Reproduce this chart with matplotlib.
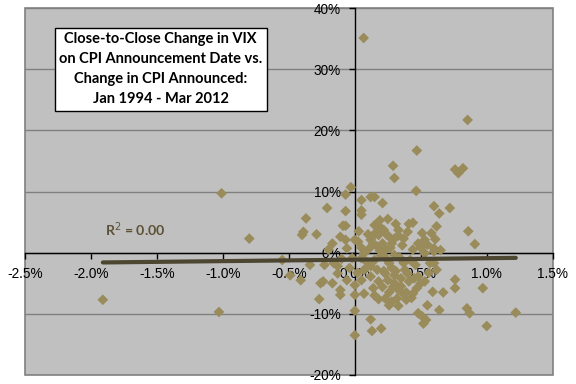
import matplotlib
matplotlib.use("Agg")
import matplotlib.pyplot as plt
from matplotlib.ticker import FuncFormatter, MultipleLocator

# CPI change announced (%)
cpi_change = [
    0.067, 0.855, 0.47, 0.29, 0.30, 0.76, 0.785, 0.82, 0.465, -0.03,
    -0.07, -1.01, 0.12, 0.15, 0.05, 0.21, -0.21, -0.07, 0.05, 0.05,
    0.60, 0.72, 0.64, -0.37, 0.19, 0.25, 0.15, 0.31, 0.41, 0.44,
    0.62, -0.09, -0.07, -0.80, -0.39, -0.40, -0.29, 0.22, 0.33, 0.40,
    0.51, 0.58, 0.86, 0.91, 0.18, 0.26, 0.30, 0.37, 0.53, 0.61,
    -0.11, -0.07, 0.00, 0.025, 0.12, 0.14, 0.21, 0.48, 0.55, -0.17,
    -0.06, 0.11, 0.23, 0.60, 0.65, 0.07, 0.22, 0.30, 0.53, 0.60,
    -0.55, -0.34, -0.23, -0.02, 0.05, 0.15, 0.26, 0.37, 0.46, 0.57,
    0.60, -0.49, -0.41, -0.24, -0.26, -0.17, -0.13, -0.06, 0.00, 0.05,
    0.12, 0.18, 0.23, 0.25, 0.30, 0.35, 0.40, 0.41, 0.48, 0.50,
    0.53, 0.76, 0.76, 0.97, 0.67, 0.59, 0.47, 0.44, 0.39, 0.33,
    0.29, 0.21, 0.14, 0.07, 0.00, -0.11, -0.11, -0.27, 0.18, 0.23,
    0.28, 0.32, 0.26, 0.33, 0.39, 0.43, 0.55, 0.64, 0.85, 0.87,
    0.48, 0.51, 0.54, 0.52, 1.22, 1.00, 0.00, 0.12, 0.13, 0.20,
    0.00, -1.03, -1.91, -0.16,
    0.10, 0.13, 0.17, 0.19, 0.20, 0.24, 0.27, 0.28, 0.31, 0.34,
    0.36, 0.38, 0.17, 0.12, 0.09, 0.22, 0.26, 0.30, 0.35, 0.20,
    0.24, 0.28, 0.16, 0.33, 0.42, 0.44, 0.50, 0.05, -0.04, -0.10,
    0.02, 0.07, 0.37, 0.15, 0.45, 0.56, 0.62, -0.20, -0.13, 0.03,
]

# Close-to-close VIX change on announcement date (%)
vix_change = [
    35.1, 21.7, 16.7, 14.2, 12.2, 13.6, 13.0, 13.8, 10.1, 10.7,
    9.5, 9.7, 9.1, 9.1, 8.6, 8.1, 7.3, 6.8, 6.9, 6.2,
    7.6, 7.3, 6.4, 5.6, 5.3, 5.5, 4.5, 4.7, 4.7, 4.9,
    4.3, 4.4, 4.4, 2.3, 3.4, 2.9, 3.0, 3.7, 3.7, 3.4,
    3.2, 3.2, 3.5, 1.4, 2.9, 2.6, 2.3, 2.3, 2.1, 2.2,
    2.6, 2.1, 2.1, 1.8, 2.1, 1.5, 1.5, 1.5, 1.3, 1.5,
    0.7, 0.7, 0.7, 0.7, 0.4, -0.1, 0.2, -0.4, -0.1, 0.2,
    -1.2, -2.0, -2.0, -0.9, -0.9, -1.2, -1.7, -1.7, -2.0, -1.7,
    -1.7, -3.7, -4.5, -4.7, -5.0, -5.0, -3.4, -4.5, -5.3, -4.5,
    -3.9, -4.7, -3.4, -4.5, -3.7, -4.2, -3.4, -4.7, -3.9, -5.0,
    -4.7, -4.4, -5.8, -5.8, -6.5, -6.4, -5.8, -6.7, -6.5, -6.1,
    -5.6, -5.6, -5.8, -6.7, -6.9, -6.1, -6.9, -7.6, -7.6, -7.5,
    -8.0, -7.5, -8.6, -8.7, -7.7, -7.4, -8.6, -9.4, -9.1, -9.9,
    -9.9, -10.4, -11.0, -11.6, -9.8, -12.0, -9.5, -10.9, -12.8, -12.4,
    -13.5, -9.7, -7.7, -1.7,
    3.0, 2.5, 1.0, 0.3, -0.5, -1.0, 0.8, -2.5, -3.0, -0.8,
    1.2, -2.8, -2.8, -2.2, -1.5, -3.0, -6.5, -5.0, -5.5, 4.0,
    3.0, 1.5, 3.3, 2.8, -1.2, 0.5, 0.8, 0.8, -2.5, -1.0,
    -3.3, -2.8, -6.8, -7.0, -4.2, -3.3, -2.8, 0.5, -2.2, 3.5,
]

# Linear trendline as drawn (endpoints)
trend_x = [-1.91, 1.22]
trend_y = [-1.6, -0.85]

title_lines = ["Close-to-Close Change in VIX",
               "on CPI Announcement Date vs.",
               "Change in CPI Announced:",
               "Jan 1994 - Mar 2012"]
r2_label = "R$^2$ = 0.00"

W, H = 576, 384
fig = plt.figure(figsize=(W / 100, H / 100), dpi=100)
fig.patch.set_facecolor("white")
ax = fig.add_axes([25 / W, 1 - 375 / H, (552.7 - 25) / W, (375 - 8) / H])
ax.set_facecolor("#c0c0c0")
ax.set_xlim(-2.5, 1.5)
ax.set_ylim(-20, 40)

ax.yaxis.set_major_locator(MultipleLocator(10))
ax.xaxis.set_major_locator(MultipleLocator(0.5))
ax.grid(axis="y", color="#808080", linewidth=1.0)
ax.set_axisbelow(True)

for s in ["top", "right"]:
    ax.spines[s].set_visible(False)
ax.spines["left"].set_position(("data", 0))
ax.spines["bottom"].set_position(("data", 0))
ax.spines["left"].set_color("black")
ax.spines["bottom"].set_color("black")
ax.spines["left"].set_linewidth(1.0)
ax.spines["bottom"].set_linewidth(1.0)

# plot-area border
ax.patch.set_edgecolor("#808080")
ax.patch.set_linewidth(1.2)

ax.tick_params(axis="both", direction="out", length=4, width=1, color="black",
               labelsize=9.8, labelcolor="black")
ax.tick_params(axis="x", pad=6.5)
ax.tick_params(axis="y", pad=6.0)
ax.xaxis.set_major_formatter(FuncFormatter(lambda v, p: f"{v:.1f}%"))
ax.yaxis.set_major_formatter(FuncFormatter(lambda v, p: f"{v:.0f}%"))
for lab in ax.get_xticklabels() + ax.get_yticklabels():
    lab.set_fontfamily("Liberation Sans")

ax.scatter(cpi_change, vix_change, marker="D", s=30, color="#9a8b5a",
           edgecolors="none", zorder=3, clip_on=False)
ax.plot(trend_x, trend_y, color="#4d4631", linewidth=3.0,
        solid_capstyle="round", zorder=4)

ax.text(-1.89, 3.7, r2_label, fontsize=10.2, fontweight="bold",
        color="#5c5236", va="center", ha="left", family="Lato", zorder=5)

ax.text(0.2787, 0.820, "\n".join(title_lines), transform=fig.transFigure,
        ha="center", va="center", fontsize=10.5, fontweight="bold",
        family="Lato", linespacing=1.55, color="black",
        bbox=dict(boxstyle="square,pad=0.3", facecolor="white",
                  edgecolor="black", linewidth=1.0), zorder=6)

fig.savefig("out.png", dpi=100)
